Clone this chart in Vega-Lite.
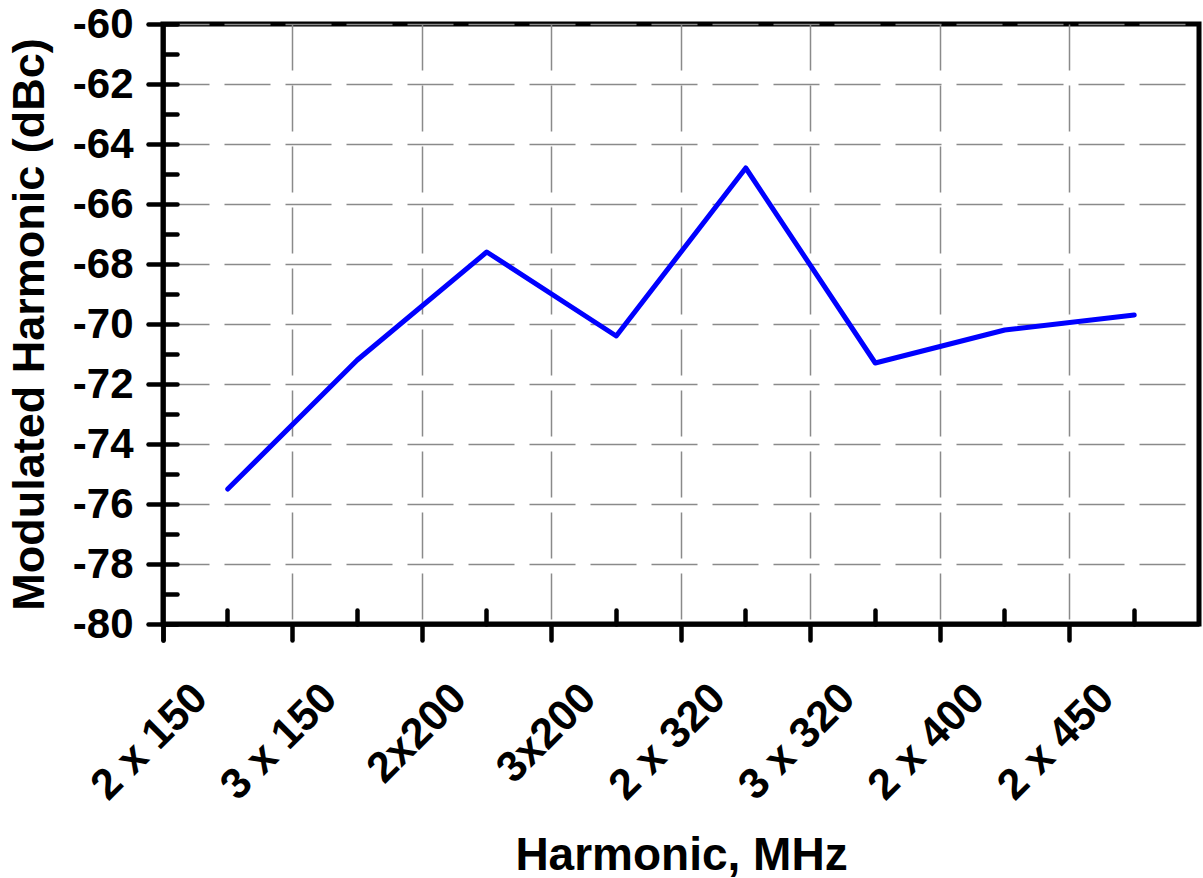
{
  "$schema": "https://vega.github.io/schema/vega-lite/v6.json",
  "width": 1036,
  "height": 600,
  "autosize": {"type": "none"},
  "padding": {"left": 163, "top": 24, "right": 4, "bottom": 254},
  "background": "white",
  "config": {
    "view": {"stroke": "black", "strokeWidth": 5},
    "font": "Liberation Sans",
    "axis": {
      "domainColor": "black",
      "domainWidth": 4.5,
      "tickColor": "black",
      "tickWidth": 4.5,
      "tickCap": "round",
      "labelFont": "Liberation Sans",
      "labelFontWeight": "bold",
      "labelColor": "black",
      "titleFont": "Liberation Sans",
      "titleFontWeight": "bold",
      "titleColor": "black",
      "gridColor": "#8a8a8a",
      "gridWidth": 1.5,
      "gridDash": [46, 15],
      "gridOpacity": 1
    }
  },
  "data": {
    "values": [
      {"harmonic": "2 x 150", "dbc": -75.5},
      {"harmonic": "3 x 150", "dbc": -71.2},
      {"harmonic": "2x200", "dbc": -67.6},
      {"harmonic": "3x200", "dbc": -70.4},
      {"harmonic": "2 x 320", "dbc": -64.8},
      {"harmonic": "3 x 320", "dbc": -71.3},
      {"harmonic": "2 x 400", "dbc": -70.2},
      {"harmonic": "2 x 450", "dbc": -69.7}
    ]
  },
  "layer": [
    {
      "mark": {"type": "line", "color": "#0000ff", "strokeWidth": 5, "strokeCap": "round", "strokeJoin": "round"},
      "encoding": {
        "x": {
          "field": "harmonic",
          "type": "nominal",
          "sort": null,
          "bandPosition": 0.5,
          "scale": {"type": "band", "paddingInner": 0, "paddingOuter": 0},
          "axis": {
            "orient": "bottom",
            "bandPosition": 0,
            "tickExtra": true,
            "grid": true,
            "tickSize": 16,
            "labelAngle": -45,
            "labelAlign": "right",
            "labelBaseline": "alphabetic",
            "labelOffset": -18,
            "labelPadding": 60,
            "labelFontSize": 43,
            "title": "Harmonic, MHz",
            "titleFontSize": 46,
            "titleBaseline": "alphabetic",
            "titleY": 245
          }
        },
        "y": {
          "field": "dbc",
          "type": "quantitative",
          "scale": {"domain": [-80, -60], "nice": false, "zero": false},
          "axis": {
            "orient": "left",
            "values": [-80, -78, -76, -74, -72, -70, -68, -66, -64, -62, -60],
            "grid": true,
            "tickSize": 15,
            "labelPadding": 15,
            "labelFontSize": 42,
            "labelExpr": "replace(datum.label, '−', '-')",
            "title": "Modulated Harmonic (dBc)",
            "titleFontSize": 45,
            "titleAngle": -90,
            "titleBaseline": "alphabetic",
            "titleX": -120
          }
        }
      }
    },
    {
      "mark": {"type": "line", "opacity": 0},
      "encoding": {
        "x": {
          "field": "harmonic",
          "type": "nominal",
          "sort": null,
          "bandPosition": 0.5,
          "axis": {
            "orient": "bottom",
            "bandPosition": 0.5,
            "tickSize": -14,
            "labels": false,
            "domain": false,
            "grid": false,
            "title": null
          }
        },
        "y": {
          "field": "dbc",
          "type": "quantitative",
          "axis": {
            "orient": "left",
            "values": [-80, -79, -78, -77, -76, -75, -74, -73, -72, -71, -70, -69, -68, -67, -66, -65, -64, -63, -62, -61, -60],
            "tickSize": -14,
            "labels": false,
            "domain": false,
            "grid": false,
            "title": null
          }
        }
      }
    }
  ],
  "resolve": {"axis": {"x": "independent", "y": "independent"}}
}
